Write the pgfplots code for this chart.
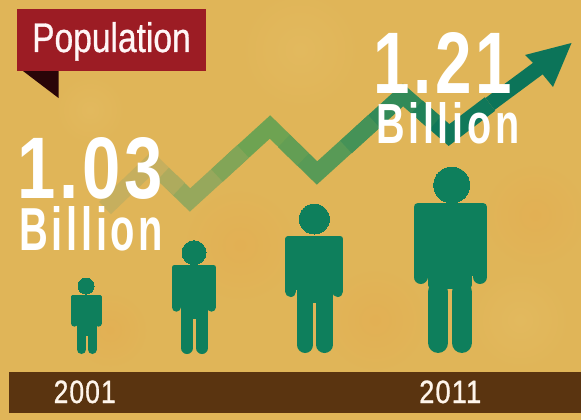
\documentclass[border=0pt]{standalone}
\usepackage{fontspec}
\setmainfont{Liberation Sans}
\newfontfamily\numfont{Liberation Sans}[LetterSpace=5,FakeStretch=0.86]
\newfontfamily\wordfont{Liberation Sans}[LetterSpace=8,FakeStretch=0.86]
\newfontfamily\yearfont{Liberation Sans}[LetterSpace=4,FakeBold=1]
\newfontfamily\tagfont{Liberation Sans}[FakeBold=0.8]
\usepackage{pgfplots}
\pgfplotsset{compat=1.18}
\definecolor{paper}{HTML}{E0B558}
\definecolor{warm}{HTML}{E2B054}
\definecolor{pale}{HTML}{E2B95E}
\definecolor{band}{HTML}{5A3410}
\definecolor{banner}{HTML}{9C1C24}
\definecolor{fold}{HTML}{2A0508}
\definecolor{figure}{HTML}{0E7F5C}
\definecolor{arrowc}{HTML}{0C7459}
\definecolor{trendA}{HTML}{C6AF5E}
\definecolor{trendB}{HTML}{96A85C}
\definecolor{trendC}{HTML}{6EA352}
\definecolor{trendD}{HTML}{589A56}
\definecolor{trendE}{HTML}{328A58}
\definecolor{trendF}{HTML}{10785A}
% label scaled into an exact box standing on its baseline
\newcommand{\fitlabel}[6]{\node[anchor=base west,inner sep=0pt,text=#6] at (axis cs:#1,#2) {\resizebox{#3pt}{#4pt}{#5}};}
% soft mottling of the paper
\newcommand{\mottle}[4]{\shade[inner color=#4,outer color=paper] (axis cs:#1,#2) circle[radius=#3pt];}
\pgfplotsset{
  torso/.style={fill=figure,draw=figure,line width=#1,line join=round,forget plot},
  limb/.style={draw=figure,line width=#1,line cap=round,forget plot,no marks},
  head/.style={only marks,mark=*,mark size=#1,mark options={fill=figure,draw=figure,line width=0pt},forget plot},
  trend/.style={draw=#1,line width=17pt,line join=miter,miter limit=6,line cap=butt,forget plot,no marks},
}
\begin{document}
\begin{tikzpicture}
\begin{axis}[
  width=581pt,height=420pt,scale only axis,
  xmin=0,xmax=581,ymin=0,ymax=420,y dir=reverse,
  axis lines=none,clip=true,
]
% paper
\addplot[fill=paper,draw=none,forget plot] coordinates {(0,0)(581,0)(581,420)(0,420)} --cycle;
\mottle{240}{245}{60}{warm}
\mottle{375}{320}{55}{warm}
\mottle{535}{215}{55}{warm}
\mottle{110}{330}{40}{warm}
\mottle{300}{50}{60}{pale}
\mottle{520}{320}{50}{pale}
\mottle{90}{110}{35}{pale}

% rising trend line, fading towards the left
\addplot[trend=trendA] coordinates {(105,208)(152,163)(171,181.5)};
\addplot[trend=trendB] coordinates {(171,181.5)(190,200)(230,163.5)};
\addplot[trend=trendC] coordinates {(230,163.5)(270,127)(293.5,150)};
\addplot[trend=trendD] coordinates {(293.5,150)(317,173)(360,134)};
\addplot[trend=trendE] coordinates {(360,134)(403,95)(426,115)};
\addplot[trend=trendF] coordinates {(426,115)(449,135)(490,104)};
\addplot[draw=arrowc,line width=15pt,forget plot,no marks] coordinates {(490,104)(540,67)};
% softened colour steps along the line
\addplot[trend=trendA!50!trendB] coordinates {(163,174)(179,189)};
\addplot[trend=trendB!50!trendC] coordinates {(217,175.5)(243,151.5)};
\addplot[trend=trendC!50!trendD] coordinates {(284,141)(303,159.5)};
\addplot[trend=trendD!50!trendE] coordinates {(346,147)(374,121.5)};
\addplot[trend=trendE!50!trendF] coordinates {(417,107)(435,123)};
\addplot[fill=arrowc,draw=none,forget plot] coordinates {(571.5,43)(525,55)(534,64)(544,76)(553,87)} --cycle;

% figures, smallest to largest
\addplot[head=8] coordinates {(86,286)};
\addplot[torso=3pt] coordinates {(72.5,296.5)(100.2,296.5)(100.2,322)(95.2,322)(95.2,334)(78.5,334)(78.5,322)(72.5,322)} --cycle;
\addplot[limb=6.5pt] coordinates {(74.3,300)(74.3,323.4)};
\addplot[limb=6.5pt] coordinates {(98.4,300)(98.4,323.4)};
\addplot[limb=9pt] coordinates {(81.5,330)(81.5,349.5)};
\addplot[limb=9pt] coordinates {(92.2,330)(92.2,349.5)};

\addplot[head=12] coordinates {(194,252.7)};
\addplot[torso=5pt] coordinates {(174.2,267.5)(213.5,267.5)(213.5,304)(205.5,304)(205.5,316)(183.5,316)(183.5,304)(174.2,304)} --cycle;
\addplot[limb=9pt] coordinates {(176.2,272)(176.2,307.2)};
\addplot[limb=9pt] coordinates {(211.5,272)(211.5,307.2)};
\addplot[limb=12pt] coordinates {(187,312)(187,348)};
\addplot[limb=12pt] coordinates {(202,312)(202,348)};

\addplot[head=15] coordinates {(314.3,219)};
\addplot[torso=6pt] coordinates {(288.3,239)(340.3,239)(340.3,287)(329.7,287)(329.7,300)(300,300)(300,287)(288.3,287)} --cycle;
\addplot[limb=11pt] coordinates {(290.8,245)(290.8,291.5)};
\addplot[limb=11pt] coordinates {(337.8,245)(337.8,291.5)};
\addplot[limb=16.4pt] coordinates {(305.2,302)(305.2,344.8)};
\addplot[limb=16.4pt] coordinates {(324.5,302)(324.5,344.8)};

\addplot[head=18] coordinates {(451.7,185)};
\addplot[torso=8pt] coordinates {(417.5,207)(483,207)(483,272)(468,272)(468,285)(432,285)(432,272)(417.5,272)} --cycle;
\addplot[limb=14pt] coordinates {(420.5,215)(420.5,277)};
\addplot[limb=14pt] coordinates {(480,215)(480,277)};
\addplot[limb=20.5pt] coordinates {(438.2,292)(438.2,342.7)};
\addplot[limb=20.5pt] coordinates {(461.8,292)(461.8,342.7)};

% title tag
\addplot[fill=fold,draw=none,forget plot] coordinates {(23,71)(58.5,71)(58.5,98)} --cycle;
\addplot[fill=banner,draw=none,forget plot] coordinates {(17,9)(206,9)(206,71.5)(17,71.5)} --cycle;

% year band
\addplot[fill=band,draw=none,forget plot] coordinates {(9,372)(581,372)(581,412.5)(9,412.5)} --cycle;

\fitlabel{32}{52}{158.5}{30}{\tagfont Population}{white!85!pink}
\fitlabel{53.5}{403}{62}{22.5}{\yearfont 2001}{white!92!orange}
\fitlabel{419}{403}{62}{22.5}{\yearfont 2011}{white!92!orange}
\fitlabel{17}{198}{146}{61}{\numfont\bfseries 1.03}{white}
\fitlabel{19}{250}{144}{44}{\wordfont\bfseries Billion}{white}
\fitlabel{373}{93}{139}{61}{\numfont\bfseries 1.21}{white}
\fitlabel{376}{143}{143}{41}{\wordfont\bfseries Billion}{white}
\end{axis}
\end{tikzpicture}
\end{document}
